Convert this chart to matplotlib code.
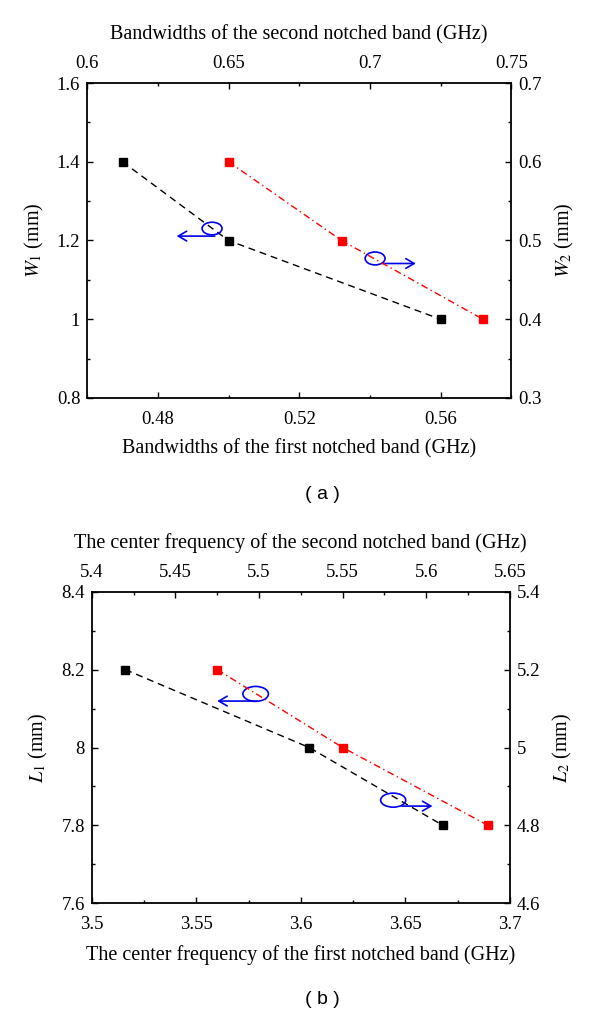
import matplotlib
matplotlib.use("Agg")
import matplotlib.pyplot as plt
from matplotlib.patches import Ellipse
from matplotlib.ticker import MultipleLocator, FuncFormatter

# ---- data ----
# panel (a)
bw_first = [0.470, 0.500, 0.560]      # GHz (bottom axis)
w1 = [1.4, 1.2, 1.0]                  # mm (left axis)
bw_second = [0.650, 0.690, 0.740]     # GHz (top axis)
w2 = [0.6, 0.5, 0.4]                  # mm (right axis)
# panel (b)
fc_first = [3.516, 3.604, 3.668]      # GHz (bottom axis)
l1 = [8.2, 8.0, 7.8]                  # mm (left axis)
fc_second = [5.475, 5.550, 5.637]     # GHz (top axis)
l2 = [5.2, 5.0, 4.8]                  # mm (right axis)

plt.rcParams['font.family'] = ['Liberation Serif', 'DejaVu Serif']
plt.rcParams['mathtext.fontset'] = 'stix'

TICK_FS = 13.5
LAB_FS = 14.5

fmt = FuncFormatter(lambda v, p: '{:g}'.format(round(v, 4)))

fig = plt.figure(figsize=(6, 10.14), dpi=100)


def style_axis(ax):
    for s in ax.spines.values():
        s.set_linewidth(1.3)
    ax.tick_params(which='major', direction='in', length=4.5, width=1.0, labelsize=TICK_FS, pad=5)
    ax.tick_params(which='minor', direction='in', length=2.5, width=1.0)


def make_panel(rect, xb, yl, xt, yr, xlim_b, ylim_l, xlim_t, ylim_r,
               xmaj_b, xmin_b, ymaj_l, ymin_l, xmaj_t, xmin_t, ymaj_r, ymin_r,
               xlab_b, ylab_l, xlab_t, ylab_r, ell, arr, panel_lab, panel_y):
    ax = fig.add_axes(rect)
    ax.plot(xb, yl, ls=(0, (5, 3.5)), color='black', lw=1.0, marker='s', ms=5.5,
            mfc='black', mec='black')
    ax.set_xlim(*xlim_b)
    ax.set_ylim(*ylim_l)
    ax.xaxis.set_major_locator(MultipleLocator(xmaj_b))
    ax.xaxis.set_minor_locator(MultipleLocator(xmin_b))
    ax.yaxis.set_major_locator(MultipleLocator(ymaj_l))
    ax.yaxis.set_minor_locator(MultipleLocator(ymin_l))
    ax.xaxis.set_major_formatter(fmt)
    ax.yaxis.set_major_formatter(fmt)
    style_axis(ax)
    ax.tick_params(axis='x', which='major', pad=9)
    ax.set_xlabel(xlab_b, fontsize=LAB_FS, labelpad=8.5)
    ax.set_ylabel(ylab_l, fontsize=LAB_FS, labelpad=8)

    ax2 = fig.add_axes(rect, frameon=False)
    ax2.plot(xt, yr, ls=(0, (5, 2.5, 1, 2.5)), color='red', lw=1.0, marker='s', ms=5.5,
             mfc='red', mec='red')
    ax2.set_xlim(*xlim_t)
    ax2.set_ylim(*ylim_r)
    ax2.xaxis.tick_top()
    ax2.xaxis.set_label_position('top')
    ax2.yaxis.tick_right()
    ax2.yaxis.set_label_position('right')
    ax2.xaxis.set_major_locator(MultipleLocator(xmaj_t))
    ax2.xaxis.set_minor_locator(MultipleLocator(xmin_t))
    ax2.yaxis.set_major_locator(MultipleLocator(ymaj_r))
    ax2.yaxis.set_minor_locator(MultipleLocator(ymin_r))
    ax2.xaxis.set_major_formatter(fmt)
    ax2.yaxis.set_major_formatter(fmt)
    style_axis(ax2)
    ax2.tick_params(axis='x', which='major', pad=8)
    ax2.set_xlabel(xlab_t, fontsize=LAB_FS, labelpad=11)
    ax2.set_ylabel(ylab_r, fontsize=LAB_FS, labelpad=8)

    for (cx, cy, w, h), (x0, x1, ya) in zip(ell, arr):
        ax.add_patch(Ellipse((cx, cy), w, h, transform=ax.transAxes, fill=False,
                             ec='#0000ee', lw=1.2, zorder=5))
        ax.annotate('', xy=(x1, ya), xytext=(x0, ya), xycoords='axes fraction',
                    textcoords='axes fraction',
                    arrowprops=dict(arrowstyle='->,head_length=0.6,head_width=0.35',
                                    color='#0000ee', lw=1.2, shrinkA=0, shrinkB=0),
                    zorder=5)
    fig.text(322.6 / 600, 1 - panel_y / 1014, panel_lab, family='Liberation Sans',
             fontsize=14, ha='center', va='center')
    return ax, ax2


make_panel([87.2 / 600, 1 - 398 / 1014, 424 / 600, 315 / 1014],
           bw_first, w1, bw_second, w2,
           (0.46, 0.58), (0.8, 1.6), (0.6, 0.75), (0.3, 0.7),
           0.04, 0.02, 0.2, 0.1, 0.05, 0.025, 0.1, 0.05,
           'Bandwidths of the first notched band (GHz)', r'$W_1$ (mm)',
           'Bandwidths of the second notched band (GHz)', r'$W_2$ (mm)',
           ell=[(0.2945, 0.538, 0.047, 0.040), (0.679, 0.443, 0.047, 0.041)],
           arr=[(0.301, 0.211, 0.514), (0.696, 0.775, 0.427)],
           panel_lab='( a )', panel_y=495)

make_panel([91.8 / 600, 1 - 903.3 / 1014, 418 / 600, 311.6 / 1014],
           fc_first, l1, fc_second, l2,
           (3.5, 3.7), (7.6, 8.4), (5.4, 5.65), (4.6, 5.4),
           0.05, 0.025, 0.2, 0.1, 0.05, 0.025, 0.2, 0.1,
           'The center frequency of the first notched band (GHz)', r'$L_1$ (mm)',
           'The center frequency of the second notched band (GHz)', r'$L_2$ (mm)',
           ell=[(0.392, 0.672, 0.061, 0.048), (0.721, 0.331, 0.060, 0.045)],
           arr=[(0.396, 0.300, 0.649), (0.742, 0.815, 0.312)],
           panel_lab='( b )', panel_y=1000)

fig.savefig('out.png', dpi=100)
